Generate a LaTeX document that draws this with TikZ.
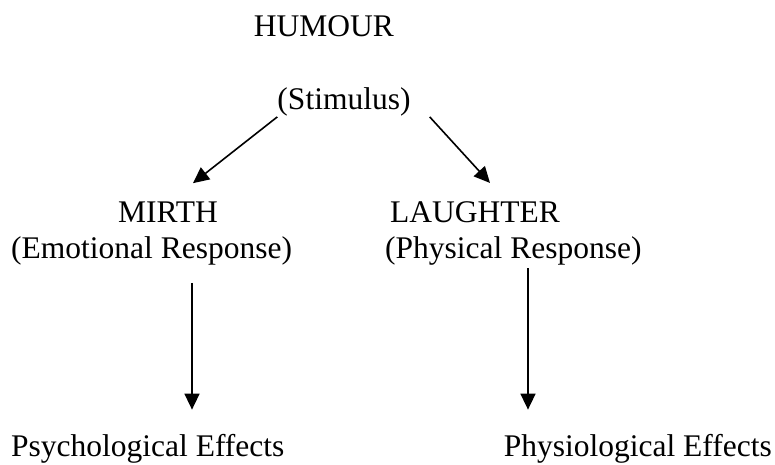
\documentclass[tikz,border=0pt]{standalone}
\usepackage{fontspec}
\setmainfont{Liberation Serif}
\usepackage{tikz}
\usetikzlibrary{arrows.meta,positioning}

\tikzset{
  label text/.style={inner sep=0pt, font=\fontsize{31.5}{38}\selectfont},
  flow arrow/.style={line width=1.6pt, -{Triangle[length=16pt,width=15pt]}}
}

\begin{document}
\begin{tikzpicture}[x=1pt,y=-1pt]
  \useasboundingbox (0,0) rectangle (775,465);

  % the top of the diagram
  \node[label text, anchor=base] (humour) at (324,37) {HUMOUR};
  \node[label text, anchor=base] (stimulus) at (344,110) {(Stimulus)};

  % the two responses
  \node[label text, anchor=base] (mirth) at (168,222) {MIRTH};
  \node[label text, anchor=base west] (emotional) at (11,258) {(Emotional Response)};
  \node[label text, anchor=base west] (laughter) at (390,222) {LAUGHTER};
  \node[label text, anchor=base west] (physical) at (385,258) {(Physical Response)};

  % the effects
  \node[label text, anchor=base west] (psych) at (11,456) {Psychological Effects};
  \node[label text, anchor=base east] (physio) at (772,456) {Physiological Effects};

  \draw[flow arrow] (stimulus.south west) -- ([shift={(25,-18)}]mirth.north);
  \draw[flow arrow] ([shift={(19,0)}]stimulus.south east) -- ([shift={(100,-18)}]laughter.north west);

  \draw[flow arrow] ([shift={(181,18)}]emotional.south west) -- ([shift={(181,-24)}]psych.north west);
  \draw[flow arrow] ([shift={(143,3)}]physical.south west) -- ([shift={(-244,-24)}]physio.north east);

\end{tikzpicture}
\end{document}
